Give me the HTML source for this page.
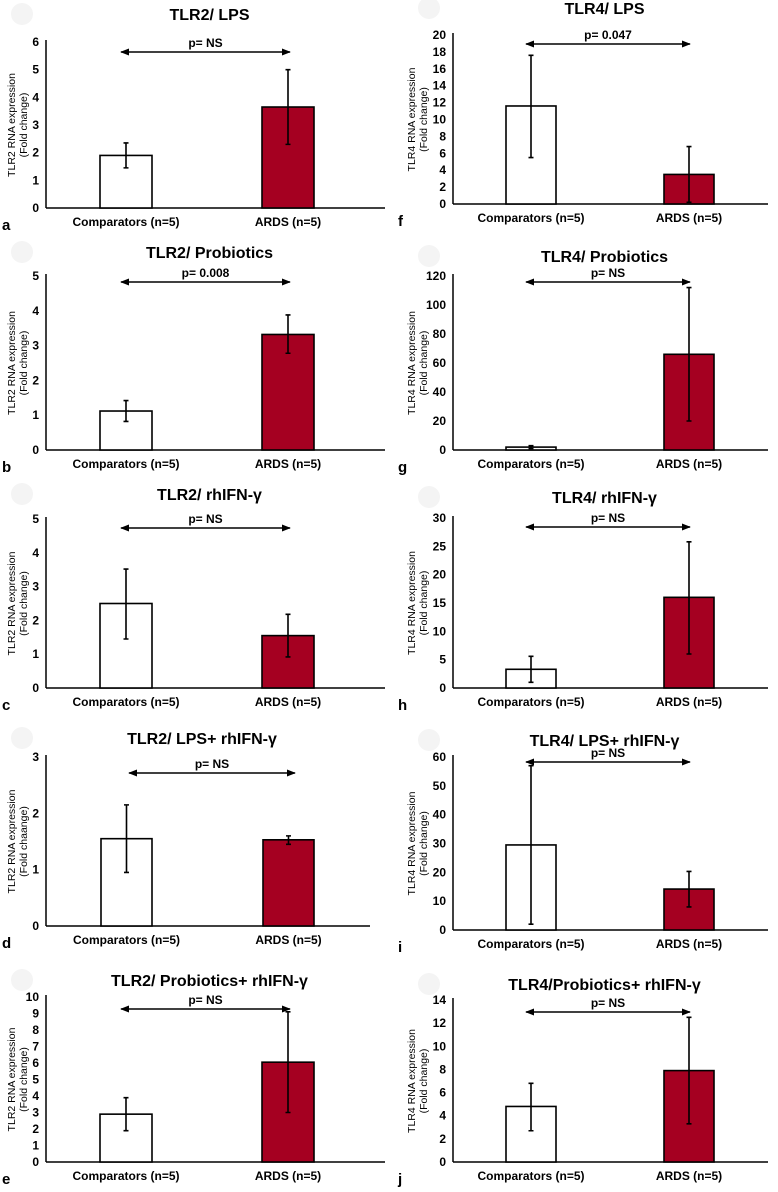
<!DOCTYPE html>
<html><head><meta charset="utf-8">
<style>
html,body{margin:0;padding:0;background:#fff;}
svg{display:block;font-family:"Liberation Sans",Arial,sans-serif;font-weight:bold;}
</style></head>
<body>
<svg id="fig" width="778" height="1192" viewBox="0 0 778 1192" xmlns="http://www.w3.org/2000/svg"></svg>
<script>
const categories = ["Comparators (n=5)", "ARDS (n=5)"];
const titles = ["TLR2/ LPS","TLR2/ Probiotics","TLR2/ rhIFN-γ","TLR2/ LPS+ rhIFN-γ","TLR2/ Probiotics+ rhIFN-γ",
  "TLR4/ LPS","TLR4/ Probiotics","TLR4/ rhIFN-γ","TLR4/ LPS+ rhIFN-γ","TLR4/Probiotics+ rhIFN-γ"];
const pLabels = ["p= NS","p= 0.008","p= NS","p= NS","p= NS","p= 0.047","p= NS","p= NS","p= NS","p= NS"];
const letters = ["a","b","c","d","e","f","g","h","i","j"];
const yMaxes = [6,5,5,3,10,20,120,30,60,14];
const yStepsArr = [1,1,1,1,1,2,20,5,10,2];
const comparatorMeans = [1.9,1.12,2.5,1.55,2.9,11.6,2,3.3,29.5,4.8];
const comparatorLow = [1.45,0.82,1.45,0.95,1.9,5.5,1,1,2,2.7];
const comparatorHigh = [2.35,1.42,3.52,2.15,3.9,17.6,3,5.6,57,6.8];
const ardsMeans = [3.65,3.32,1.55,1.53,6.05,3.5,66,16,14.2,7.9];
const ardsLow = [2.3,2.78,0.92,1.45,3.0,0.2,20,6,8,3.3];
const ardsHigh = [5.0,3.88,2.18,1.6,9.1,6.8,112,25.8,20.3,12.5];

const layout = [
 {ax:46, top:42, bot:208, title:20, arrow:52, right:385, b1:100, b2:262, bw:52, a1:121, a2:290},
 {ax:46, top:276, bot:450, title:258, arrow:282, right:385, b1:100, b2:262, bw:52, a1:121, a2:290},
 {ax:46, top:519, bot:688, title:500, arrow:528, right:385, b1:100, b2:262, bw:52, a1:121, a2:290},
 {ax:46, top:757, bot:926, title:744, arrow:773, right:370, b1:101, b2:263, bw:51, a1:129, a2:295},
 {ax:46, top:997, bot:1162, title:986, arrow:1009, right:385, b1:100, b2:262, bw:52, a1:121, a2:290},
 {ax:453, top:35, bot:204, title:14, arrow:44, right:768, b1:506, b2:664, bw:50, a1:526, a2:690},
 {ax:453, top:276, bot:450, title:262, arrow:282, right:768, b1:506, b2:664, bw:50, a1:526, a2:690},
 {ax:453, top:518, bot:688, title:503, arrow:527, right:768, b1:506, b2:664, bw:50, a1:526, a2:690},
 {ax:453, top:757, bot:930, title:746, arrow:762, right:768, b1:506, b2:664, bw:50, a1:526, a2:690},
 {ax:453, top:1000, bot:1162, title:990, arrow:1012, right:768, b1:506, b2:664, bw:50, a1:526, a2:690}
];

const NS = "http://www.w3.org/2000/svg";
const svg = document.getElementById("fig");
function mk(tag, attrs, parent, text){
  const e = document.createElementNS(NS, tag);
  for (const k in attrs) e.setAttribute(k, attrs[k]);
  if (text !== undefined) e.textContent = text;
  parent.appendChild(e);
  return e;
}
const defs = mk("defs", {}, svg);
const mkr = mk("marker", {id:"ah", viewBox:"0 0 10 10", refX:"9", refY:"5", markerWidth:"6", markerHeight:"6", orient:"auto-start-reverse"}, defs);
mk("path", {d:"M0,1 L10,5 L0,9 z", fill:"#000"}, mkr);

for (let i = 0; i < 10; i++){
  const L = layout[i];
  const g = mk("g", {}, svg);
  
  
  const y = v => L.bot - (v / yMaxes[i]) * (L.bot - L.top);
  const cx = L.ax + (L.right - L.ax) / 2 - 6;
  const circ = mk("circle", {cx: L.ax - 24, cy: L.title - 6, r: 11, fill: "#f4f4f4"}, g);
  
  
  const t = mk("text", {x: cx, y: L.title, "text-anchor":"middle", "font-size":"16"}, g, titles[i]);
  
  
  const yAxis = mk("line", {x1:L.ax, y1:L.top - 2, x2:L.ax, y2:L.bot, stroke:"#000", "stroke-width":"1.5"}, g);
  
  
  const xAxis = mk("line", {x1:L.ax, y1:L.bot, x2:L.right, y2:L.bot, stroke:"#000", "stroke-width":"1.5"}, g);
  
  
  for (let v = 0; v <= yMaxes[i] + 1e-9; v += yStepsArr[i]){
    const tk = mk("text", {x: L.ax - 7, y: y(v) + 4, "text-anchor":"end", "font-size":"12"}, g, String(v));
    
    
  }
  const gene = i < 5 ? "TLR2" : "TLR4";
  const midY = (L.top + L.bot) / 2;
  const yx = L.ax - (i < 5 ? 31 : 38);
  const yt1 = mk("text", {x: yx, y: midY, transform:`rotate(-90 ${yx} ${midY})`, "text-anchor":"middle", "font-size":"10.5", "font-weight":"normal"}, g, gene + " RNA expression");
  
  
  const yx2 = yx + 12;
  const yt2 = mk("text", {x: yx2, y: midY, transform:`rotate(-90 ${yx2} ${midY})`, "text-anchor":"middle", "font-size":"10.5", "font-weight":"normal"}, g, i === 3 ? "(Fold chaange)" : "(Fold change)");
  
  
  const means = [comparatorMeans[i], ardsMeans[i]];
  const lows = [comparatorLow[i], ardsLow[i]];
  const highs = [comparatorHigh[i], ardsHigh[i]];
  const xs = [L.b1, L.b2];
  for (let k = 0; k < 2; k++){
    const bar = mk("rect", {x: xs[k], y: y(means[k]), width: L.bw, height: L.bot - y(means[k]), fill: k ? "#a50021" : "#fff", stroke:"#000", "stroke-width":"1.6"}, g);
    
    
    const bx = xs[k] + L.bw / 2;
    const eb = mk("path", {d:`M${bx},${y(lows[k])} V${y(highs[k])} M${bx-2.5},${y(lows[k])} H${bx+2.5} M${bx-2.5},${y(highs[k])} H${bx+2.5}`, stroke:"#000", "stroke-width":"1.6", fill:"none"}, g);
    
    
    const xl = mk("text", {x: bx, y: L.bot + 18, "text-anchor":"middle", "font-size":"12"}, g, categories[k]);
    
    
  }
  const ar = mk("line", {x1:L.a1, y1:L.arrow, x2:L.a2, y2:L.arrow, stroke:"#000", "stroke-width":"1.5", "marker-start":"url(#ah)", "marker-end":"url(#ah)"}, g);
  
  
  const pl = mk("text", {x:(L.a1 + L.a2) / 2, y: L.arrow - 5, "text-anchor":"middle", "font-size":"12"}, g, pLabels[i]);
  
  
  const lt = mk("text", {x: i < 5 ? 2 : 398, y: L.bot + 22, "font-size":"15"}, g, letters[i]);
  
  
}
</script>
</body></html>
